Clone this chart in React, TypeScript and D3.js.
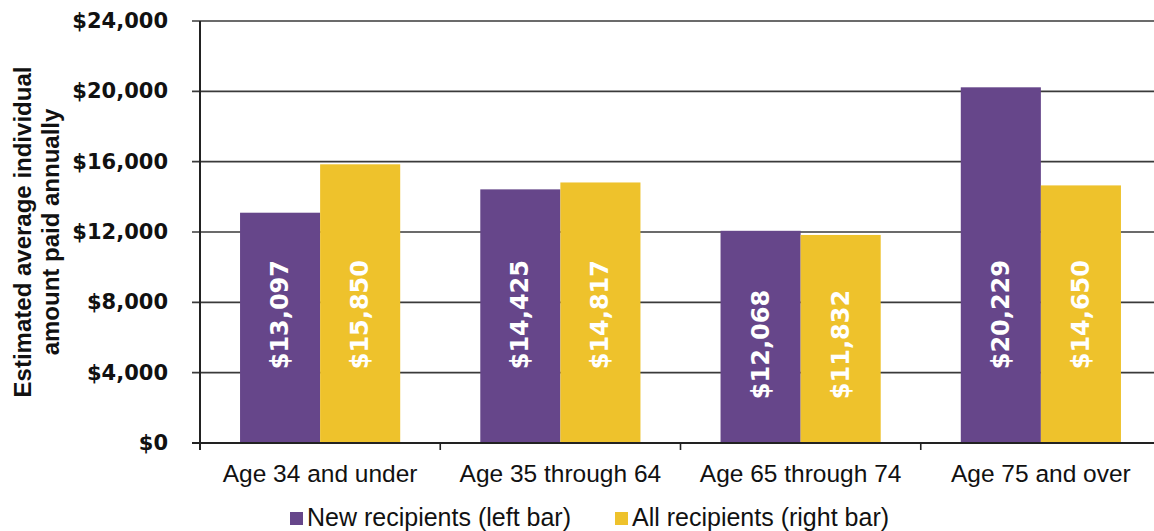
import React from "react";
import * as d3 from "d3";

const categories = ["Age 34 and under", "Age 35 through 64", "Age 65 through 74", "Age 75 and over"];
const seriesNames = ["New recipients (left bar)", "All recipients (right bar)"];
const newRecipients = [13097, 14425, 12068, 20229];
const allRecipients = [15850, 14817, 11832, 14650];
const labelCenters = [7300, 7300, 5600, 7300];
const yTicks = [0, 4000, 8000, 12000, 16000, 20000, 24000];
const colors = ["#66468a", "#eec22c"];

const W = 1154;
const H = 531;
const left = 200;
const right = 1161;
const top = 21;
const bottom = 443;

export default function App() {
  const y = d3.scaleLinear().domain([0, 24000]).range([bottom, top]);
  const x0 = d3.scaleBand<string>().domain(categories).range([left, right]).padding(0);
  const bw = x0.bandwidth();
  const x1 = d3.scaleBand<string>().domain(seriesNames).range([bw / 6, bw - bw / 6]).padding(0);
  const fmt = (v: number) => "$" + d3.format(",")(v);
  const series = [newRecipients, allRecipients];

  return (
    <svg width={W} height={H} style={{ position: "absolute", left: 0, top: 0, background: "#fff" }}>
      {yTicks.map((t) => (
        <line key={"g" + t} x1={192} x2={W} y1={y(t)} y2={y(t)} stroke="#3a3a3a" strokeWidth={1.6} />
      ))}
      {categories.map((c, i) =>
        series.map((s, j) => {
          const bx = (x0(c) as number) + (x1(seriesNames[j]) as number);
          return (
            <rect key={c + j} x={bx} y={y(s[i])} width={x1.bandwidth()} height={bottom - y(s[i])} fill={colors[j]} />
          );
        })
      )}
      {categories.map((c, i) =>
        series.map((s, j) => {
          const cx = (x0(c) as number) + (x1(seriesNames[j]) as number) + x1.bandwidth() / 2;
          const cy = y(labelCenters[i]);
          return (
            <text
              key={"l" + c + j}
              transform={`translate(${cx},${cy}) rotate(-90)`}
              textAnchor="middle"
              dominantBaseline="central"
              fill="#fff"
              fontFamily="DejaVu Sans"
              fontWeight="bold"
              fontSize={24}
            >
              {fmt(s[i])}
            </text>
          );
        })
      )}
      <line x1={192} x2={W} y1={y(0)} y2={y(0)} stroke="#222" strokeWidth={1.8} />
      <line x1={left} x2={left} y1={top} y2={bottom + 7} stroke="#222" strokeWidth={2} />
      {categories.slice(1).map((c) => (
        <line key={"t" + c} x1={x0(c) as number} x2={x0(c) as number} y1={bottom} y2={bottom + 7} stroke="#222" strokeWidth={1.6} />
      ))}
      {yTicks.map((t) => (
        <text
          key={"yl" + t}
          x={168}
          y={y(t)}
          textAnchor="end"
          dominantBaseline="central"
          fontFamily="DejaVu Sans"
          fontWeight="bold"
          fontSize={21}
          fill="#111"
        >
          {fmt(t)}
        </text>
      ))}
      <g transform={`translate(22,232) rotate(-90)`}>
        <text textAnchor="middle" dominantBaseline="central" fontFamily="Liberation Sans" fontWeight="bold" fontSize={24} fill="#111">
          Estimated average individual
        </text>
        <text y={28} textAnchor="middle" dominantBaseline="central" fontFamily="Liberation Sans" fontWeight="bold" fontSize={24} fill="#111">
          amount paid annually
        </text>
      </g>
      {categories.map((c) => (
        <text
          key={"xl" + c}
          x={(x0(c) as number) + bw / 2}
          y={482}
          textAnchor="middle"
          fontFamily="Liberation Sans"
          fontSize={24.5}
          fill="#111"
        >
          {c}
        </text>
      ))}
      {[290, 615].map((lx, j) => (
        <g key={"lg" + j} transform={`translate(${lx},0)`}>
          <rect x={0} y={512} width={13} height={13} fill={colors[j]} />
          <text x={17} y={526} fontFamily="Liberation Sans" fontSize={25} fill="#111">
            {seriesNames[j]}
          </text>
        </g>
      ))}
    </svg>
  );
}
